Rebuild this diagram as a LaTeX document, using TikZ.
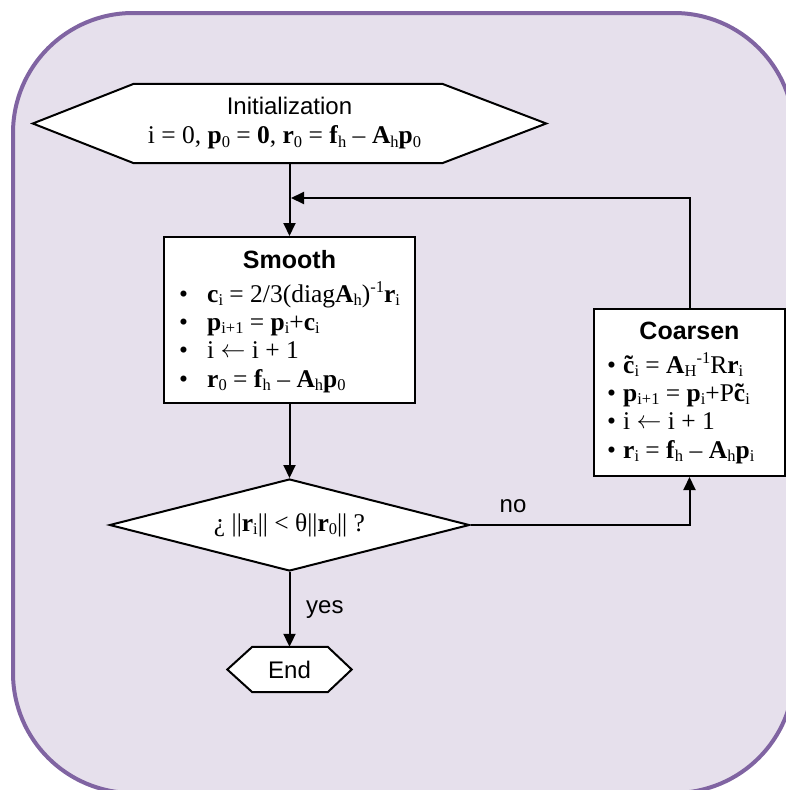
\documentclass[tikz,border=0pt]{standalone}
\usepackage{fontspec}
\setmainfont{Liberation Serif}
\setsansfont{Liberation Sans}
\usetikzlibrary{arrows.meta,shapes.geometric}
\definecolor{bordercol}{RGB}{128,100,162}
\definecolor{fillcol}{RGB}{230,224,236}
\pgfdeclarelayer{bg}
\pgfdeclarelayer{shapes}
\pgfsetlayers{bg,shapes,main}
\newcommand\mysub[1]{\smash{\raisebox{-3.5pt}{\fontsize{16.5}{16.5}\selectfont #1}}}
\newcommand\mysup[1]{\smash{\raisebox{9.5pt}{\fontsize{16.5}{16.5}\selectfont #1}}}
\newcommand\vb[1]{\textbf{#1}}
\newcommand\ctil{\textbf{\accent"02DC c}}
\newcommand\larr{\raisebox{1pt}{$\leftarrow$}}
\newcommand\bulA{\makebox[28pt][l]{•}}
\newcommand\bulB{\makebox[16pt][l]{•}}
\begin{document}
\begin{tikzpicture}[x=1pt,y=-1pt,
  every node/.style={font=\fontsize{25.5}{29}\selectfont, inner sep=0pt},
  ttl/.style={font=\fontsize{25}{29}\selectfont\sffamily\bfseries},
  lbl/.style={font=\fontsize{24}{29}\selectfont\sffamily},
  arr/.style={line width=2pt, -{Triangle[length=13pt,width=12pt]}},
  shp/.style={draw=black, line width=2pt, fill=white}]

\useasboundingbox (0,0) rectangle (786,790);
\begin{pgfonlayer}{bg}
\begin{scope}
\clip (0,0) rectangle (786,790);
\draw[line width=4pt, draw=bordercol, fill=fillcol, rounded corners=120pt] (13,13) rectangle (794,793);
\end{scope}
\end{pgfonlayer}

% Initialization
\node[minimum width=513pt, minimum height=79pt, align=center] (init) at (289.5,123.5)
  {{\fontsize{24}{29}\selectfont\sffamily Initialization}\\ i = 0, \vb{p}\mysub{0} = \vb{0}, \vb{r}\mysub{0} = \vb{f}\mysub{h} – \vb{A}\mysub{h}\vb{p}\mysub{0}\hspace*{10pt}};
\begin{pgfonlayer}{shapes}
\draw[shp] (init.west) -- ([xshift=101pt]init.north west) -- ([xshift=-104pt]init.north east)
  -- (init.east) -- ([xshift=-104pt]init.south east) -- ([xshift=101pt]init.south west) -- cycle;
\end{pgfonlayer}

% Smooth
\node[shp, minimum width=251pt, minimum height=166pt] (smooth) at (289.5,320) {};
\node[ttl, anchor=base] (smootht) at (289.5,268) {Smooth};
\node[anchor=base west] (s1) at (179,302) {\bulA\vb{c}\mysub{i} = 2/3(diag\vb{A}\mysub{h})\mysup{-1}\vb{r}\mysub{i}};
\node[anchor=base west] (s2) at (179,330) {\bulA\vb{p}\mysub{i+1} = \vb{p}\mysub{i}+\vb{c}\mysub{i}};
\node[anchor=base west] (s3) at (179,358) {\bulA i \larr{} i + 1};
\node[anchor=base west] (s4) at (179,387) {\bulA\vb{r}\mysub{0} = \vb{f}\mysub{h} – \vb{A}\mysub{h}\vb{p}\mysub{0}};

% Coarsen
\node[shp, minimum width=191pt, minimum height=167pt] (coarsen) at (689.5,392.5) {};
\node[ttl, anchor=base] (coarsent) at (689.5,339) {Coarsen};
\node[anchor=base west] (c1) at (607,373) {\bulB\ctil\mysub{i} = \vb{A}\mysub{H}\mysup{-1}R\vb{r}\mysub{i}};
\node[anchor=base west] (c2) at (607,401) {\bulB\vb{p}\mysub{i+1} = \vb{p}\mysub{i}+P\ctil\mysub{i}};
\node[anchor=base west] (c3) at (607,429) {\bulB i \larr{} i + 1};
\node[anchor=base west] (c4) at (607,458) {\bulB\vb{r}\mysub{i} = \vb{f}\mysub{h} – \vb{A}\mysub{h}\vb{p}\mysub{i}};

% Decision
\node[diamond, shp, aspect=3.9, minimum width=360pt, minimum height=92pt] (dia) at (289.5,525)
  {¿ ||\vb{r}\mysub{i}|| < θ||\vb{r}\mysub{0}|| ?};

% End
\node[lbl, minimum width=124pt, minimum height=45pt] (fin) at (289.5,669.5) {End};
\begin{pgfonlayer}{shapes}
\draw[shp] (fin.west) -- ([xshift=25pt]fin.north west) -- ([xshift=-24pt]fin.north east)
  -- (fin.east) -- ([xshift=-24pt]fin.south east) -- ([xshift=25pt]fin.south west) -- cycle;
\end{pgfonlayer}

% Connectors
\coordinate (join) at (291,198);
\draw[arr] (init.south) -- (smooth.north);
\draw[arr] (coarsen.north) |- (join);
\draw[arr] (smooth.south) -- (dia.north);
\draw[arr] (dia.east) -| (coarsen.south);
\draw[arr] (dia.south) -- (fin.north);
\node[lbl, anchor=base] (nolbl) at (513,512) {no};
\node[lbl, anchor=base west] (yeslbl) at (306,613) {yes};
\end{tikzpicture}
\end{document}
